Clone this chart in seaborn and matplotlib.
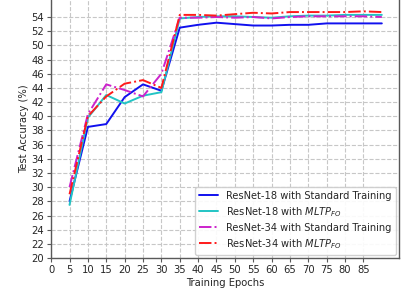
import pandas as pd
import matplotlib
matplotlib.use('Agg')
import matplotlib.pyplot as plt
import seaborn as sns

# Data
epochs = [5, 10, 15, 20, 25, 30, 35, 40, 45, 50, 55, 60, 65, 70, 75, 80, 85, 90]
r18_standard = [28.0, 38.5, 38.9, 42.7, 44.5, 43.6, 52.5, 52.9, 53.2, 53.0, 52.8, 52.8, 52.9, 52.9, 53.1, 53.1, 53.1, 53.1]
r18_mltp = [27.5, 39.8, 43.0, 41.8, 42.9, 43.4, 53.8, 54.0, 54.1, 54.1, 54.0, 53.9, 54.1, 54.2, 54.2, 54.3, 54.3, 54.3]
r34_standard = [30.0, 40.3, 44.5, 43.7, 42.8, 46.0, 53.9, 53.9, 54.0, 53.9, 54.0, 53.8, 54.0, 54.1, 54.1, 54.1, 54.1, 54.0]
r34_mltp = [29.0, 40.0, 42.8, 44.6, 45.1, 44.0, 54.3, 54.3, 54.2, 54.4, 54.6, 54.5, 54.7, 54.7, 54.7, 54.7, 54.8, 54.7]

labels = ['ResNet-18 with Standard Training',
          r'ResNet-18 with $MLTP_{FO}$',
          'ResNet-34 with Standard Training',
          r'ResNet-34 with $MLTP_{FO}$']
series = [r18_standard, r18_mltp, r34_standard, r34_mltp]
colors = ['#1010ee', '#22c4c4', '#cc22cc', '#ff1a1a']
styles = ['-', '-', '-.', '-.']

sns.set_style('whitegrid', {'grid.linestyle': '--', 'grid.color': '0.78',
                            'axes.edgecolor': '0.35', 'xtick.bottom': True,
                            'ytick.left': True})
plt.rcParams['font.family'] = ['DejaVu Sans']

fig = plt.figure(figsize=(4.06, 2.98), dpi=100)
ax = fig.add_axes([0.126, 0.134, 0.857, 0.866])

for vals, lab, col, ls in zip(series, labels, colors, styles):
    df = pd.DataFrame({'epoch': epochs, 'acc': vals})
    sns.lineplot(data=df, x='epoch', y='acc', ax=ax, color=col, linestyle=ls,
                 linewidth=1.4, label=lab)

ax.set_xlim(0, 94.7)
ax.set_ylim(20, 56.4)
ax.set_xticks(list(range(0, 90, 5)))
ax.set_yticks(list(range(20, 56, 2)))
ax.tick_params(labelsize=7.2, length=3, width=0.8, color='0.35', pad=2)
ax.set_xlabel('Training Epochs', fontsize=7.2, labelpad=2)
ax.set_ylabel('Test Accuracy (%)', fontsize=7.2, labelpad=2)
for side in ['left', 'bottom', 'right']:
    ax.spines[side].set_linewidth(1.0)
ax.spines['top'].set_visible(False)

leg = ax.legend(loc='lower right', fontsize=7.1, frameon=True, fancybox=True,
                framealpha=0.9, edgecolor='0.8', handlelength=2.0,
                borderpad=0.4, labelspacing=0.42, borderaxespad=0.35)

fig.savefig('out.png', dpi=100)
